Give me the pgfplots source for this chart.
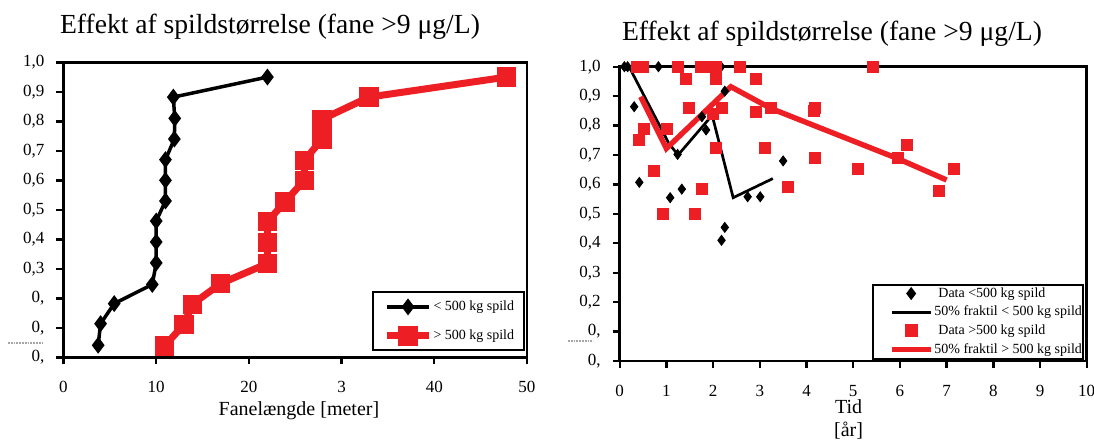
\documentclass[border=0pt]{standalone}
\usepackage{fontspec}
\setmainfont{Liberation Serif}
\usepackage{pgfplots}
\pgfplotsset{compat=1.18}

\definecolor{spildred}{RGB}{237,30,36}

\pgfplotsset{
  panel/.style={
    scale only axis,
    clip=false,
    ymin=0, ymax=1,
    ytick={0,0.1,0.2,0.3,0.4,0.5,0.6,0.7,0.8,0.9,1.0},
    axis line style={line width=1.4pt},
    tick style={line width=1.2pt, black},
    major tick length=3.5pt,
    tick align=outside,
    xtick pos=bottom, ytick pos=left,
    tick label style={font=\fontsize{8.5}{10}\selectfont},
    xticklabel style={yshift=-5pt},
    yticklabel style={xshift=-2.5pt},
    title style={font=\fontsize{13.8}{16}\selectfont, anchor=base},
    legend cell align=left,
  },
  % legend sample: blank lead of #1, then a line of #2 with the mark in its middle
  legline/.style 2 args={
    legend image code/.code={
      \path (0pt,0pt);
      \draw[mark repeat=2,mark phase=2,##1]
        plot coordinates {(#1,0pt) (#1+#2/2,0pt) (#1+#2,0pt)};
    }
  },
}

\begin{document}
\begin{tikzpicture}[x=1pt,y=1pt]
\useasboundingbox (0,0) rectangle (547,220.5);

% left panel: cumulative distribution of plume length
\begin{axis}[
  panel,
  at={(31.75pt,41.85pt)}, anchor=south west,
  width=231.75pt, height=147.5pt,
  title={Effekt af spildstørrelse (fane >9 μg/L)},
  title style={at={(0.4455,1)}, yshift=8.5pt},
  xlabel={Fanelængde [meter]},
  xlabel style={font=\fontsize{10}{12}\selectfont, at={(0.508,0)}, anchor=base, yshift=-28.9pt},
  xmin=0, xmax=50,
  xtick={0,10,20,30,40,50},
  xticklabels={0,10,20,3,40,50},
  yticklabels={{0,},{0,},{0,},{0,3},{0,4},{0,5},{0,6},{0,7},{0,8},{0,9},{1,0}},
  legend style={
    at={(0.996,0.02)}, anchor=south east,
    draw=black, line width=1pt,
    font=\fontsize{7}{8}\selectfont,
    inner xsep=0pt, inner ysep=0pt,
    nodes={inner xsep=0.5pt, inner ysep=4pt, text height=5pt, text depth=1.5pt},
    column sep=0pt, row sep=0pt,
  },
  legline={5.5pt}{21pt},
]
\addplot[black, line width=1.75pt, mark=diamond*, mark size=2.8pt]
  coordinates {
  (3.74,0.041) (4.0,0.114) (5.47,0.182) (9.58,0.247) (10.0,0.32)
  (10.0,0.391) (10.0,0.462) (11.0,0.53) (11.0,0.60) (11.0,0.67)
  (11.96,0.74) (12.0,0.81) (11.85,0.882) (22.0,0.95)
  };
\addlegendentry{< 500 kg spild\rule{4.5pt}{0pt}}

\addplot[spildred, line width=3.5pt, mark=square*, mark size=3.1pt]
  coordinates {
  (10.9,0.038) (13.0,0.112) (13.9,0.18) (16.95,0.25) (22.0,0.318)
  (22.0,0.389) (22.0,0.46) (23.9,0.527) (25.97,0.60) (26.0,0.668)
  (27.9,0.74) (27.9,0.807) (32.95,0.882) (47.8,0.95)
  };
\addlegendentry{> 500 kg spild\rule{4.5pt}{0pt}}
\end{axis}

% right panel: fraction against time
\begin{axis}[
  panel,
  at={(309.85pt,40pt)}, anchor=south west,
  width=233.5pt, height=147.15pt,
  title={Effekt af spildstørrelse (fane >9 μg/L)},
  title style={at={(0.4546,1)}, yshift=7pt},
  xlabel={Tid\\{[år]}},
  xlabel style={font=\fontsize{10}{11.5}\selectfont, align=center, at={(0.49,0)}, anchor=north, inner sep=0pt, yshift=-19pt},
  xmin=0, xmax=10,
  xtick={0,1,2,3,4,5,6,7,8,9,10},
  xticklabels={0,1,2,3,4,5,6,7,8,9,10},
  yticklabels={{0,},{0,},{0,2},{0,3},{0,4},{0,5},{0,6},{0,7},{0,8},{0,9},{1,0}},
  legend style={
    at={(0.994,0.005)}, anchor=south east,
    draw=black, line width=1pt,
    font=\fontsize{7}{8}\selectfont,
    inner xsep=0pt, inner ysep=0pt,
    nodes={inner xsep=0.5pt, inner ysep=1.2pt, text height=5pt, text depth=1.5pt},
    column sep=0pt, row sep=0.45pt,
  },
  legline={8pt}{19.5pt},
]
\addplot[black, only marks, mark=diamond*, mark size=2.5pt, legline={8pt}{19.5pt}]
  coordinates {
  (0.10,1.0) (0.17,1.0) (0.83,1.0) (2.17,1.0) (0.31,0.864) (0.42,0.607)
  (1.08,0.555) (1.24,0.702) (1.33,0.584) (1.76,0.83) (1.85,0.785)
  (2.25,0.917) (2.18,0.41) (2.25,0.454) (2.74,0.558) (3.01,0.558) (3.50,0.68)
  };
\addlegendentry{\rule{2pt}{0pt}Data <500 kg spild}

\addplot[black, line width=1.35pt, no marks]
  coordinates {
  (0.2,1.0) (1.05,0.74) (1.25,0.70) (1.98,0.835) (2.43,0.555) (3.28,0.62)
  };
\addlegendentry{50\% fraktil < 500 kg spild}

\addplot[spildred, only marks, mark=square*, mark size=2.75pt, legline={8pt}{19.5pt}]
  coordinates {
  (0.36,1.0) (0.5,1.0) (1.24,1.0) (1.74,1.0) (1.88,1.0) (2.05,1.0)
  (2.58,1.0) (5.42,1.0)
  (1.42,0.958) (2.07,0.958) (2.92,0.958)
  (1.49,0.861) (2.0,0.841) (2.18,0.861) (2.92,0.845) (3.24,0.861)
  (4.17,0.861) (4.15,0.85)
  (0.51,0.788) (0.42,0.751) (1.0,0.788)
  (0.74,0.645) (0.92,0.501) (1.60,0.501) (1.76,0.586) (2.07,0.725)
  (3.10,0.725) (4.19,0.69) (3.60,0.592) (5.09,0.652) (6.16,0.734)
  (5.95,0.69) (7.16,0.652) (6.84,0.577)
  };
\addlegendentry{\rule{2pt}{0pt}Data >500 kg spild}

\addplot[spildred, line width=2.7pt, no marks]
  coordinates {
  (0.45,0.898) (1.0,0.722) (2.38,0.932) (3.24,0.858) (5.95,0.688) (7.0,0.615)
  };
\addlegendentry{50\% fraktil > 500 kg spild}
\end{axis}

% scanning artefacts beside the lowest tick labels
\draw[gray!70, line width=1.3pt, dash pattern=on 0.9pt off 0.5pt] (4,49) -- (21,49);
\draw[gray!70, line width=1.3pt, dash pattern=on 0.9pt off 0.5pt] (284,50) -- (296.5,50);
\end{tikzpicture}
\end{document}
